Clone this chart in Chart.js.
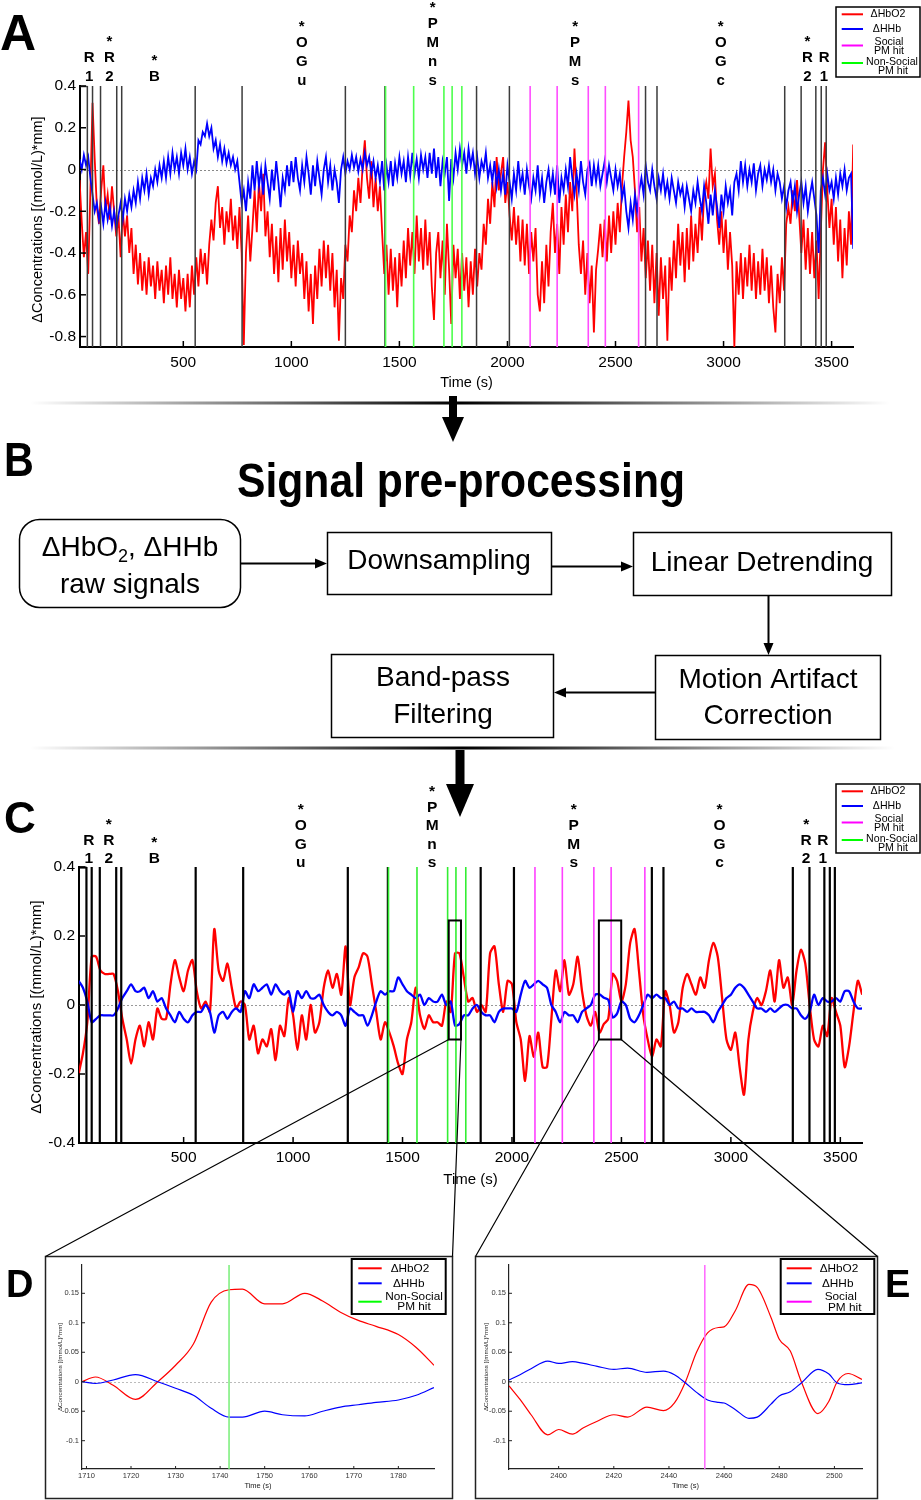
<!DOCTYPE html>
<html lang="en">
<head>
<meta charset="UTF-8">
<title>fNIRS signal pre-processing</title>
<script src="https://cdn.jsdelivr.net/npm/chart.js@4.4.1/dist/chart.umd.min.js"></script>
<style>
  html, body { margin: 0; padding: 0; background: #fff; }
  #page { position: relative; width: 921px; height: 1500px; overflow: hidden; }
  #page canvas { position: absolute; }
</style>
</head>
<body>
<div id="page">
  <canvas id="chartA" width="921" height="400" style="left:0;top:0"></canvas>
  <canvas id="chartC" width="921" height="430" style="left:0;top:770px"></canvas>
  <canvas id="chartD" width="405" height="241" style="left:46px;top:1257px"></canvas>
  <canvas id="chartE" width="401" height="241" style="left:476px;top:1257px"></canvas>
  <canvas id="overlay" width="921" height="1500" style="left:0;top:0"></canvas>
</div>
<script>
// ---- data ----
// A: raw signals, read every 10 s from 20 s to 3600 s
const timesA = Array.from({length: 359}, (_, i) => 20 + i * 10);
const oxyA = [
  -0.05,-0.25,-0.42,-0.30,-0.50,-0.10,0.32,0.05,-0.18,-0.26,
  -0.10,0.02,-0.20,-0.12,-0.24,-0.08,-0.20,-0.32,-0.22,-0.42,
  -0.20,-0.32,-0.22,-0.40,-0.28,-0.50,-0.36,-0.55,-0.40,-0.58,
  -0.44,-0.60,-0.42,-0.56,-0.46,-0.62,-0.44,-0.58,-0.48,-0.64,
  -0.46,-0.60,-0.42,-0.62,-0.50,-0.66,-0.48,-0.62,-0.52,-0.68,
  -0.50,-0.66,-0.46,-0.60,-0.42,-0.56,-0.38,-0.50,-0.40,-0.55,
  -0.36,-0.24,-0.34,-0.16,-0.08,-0.28,-0.18,-0.36,-0.20,-0.30,
  -0.14,-0.34,-0.22,-0.38,-0.18,-0.40,-0.84,-0.40,-0.22,-0.44,
  -0.28,-0.10,-0.30,-0.06,-0.20,-0.02,-0.32,-0.20,-0.42,-0.26,
  -0.50,-0.32,-0.54,-0.28,-0.48,-0.24,-0.44,-0.30,-0.52,-0.36,
  -0.56,-0.34,-0.50,-0.40,-0.62,-0.44,-0.68,-0.50,-0.74,-0.46,
  -0.62,-0.38,-0.56,-0.34,-0.52,-0.36,-0.58,-0.40,-0.66,-0.48,
  -0.82,-0.52,-0.62,-0.36,-0.44,-0.22,-0.30,-0.10,-0.20,-0.04,
  -0.16,0.02,0.14,-0.04,-0.14,0.04,-0.18,-0.04,-0.20,-0.08,
  -0.30,-0.50,-0.36,-0.60,-0.38,-0.58,-0.42,-0.66,-0.40,-0.56,
  -0.34,-0.52,-0.28,-0.46,-0.30,-0.50,-0.22,-0.44,-0.28,-0.48,
  -0.24,-0.46,-0.30,-0.56,-0.72,-0.40,-0.30,-0.52,-0.34,-0.60,
  -0.26,-0.48,-0.74,-0.36,-0.52,-0.38,-0.62,-0.40,-0.58,-0.42,
  -0.66,-0.44,-0.60,-0.38,-0.56,-0.40,-0.48,-0.26,-0.36,-0.14,
  -0.26,-0.06,-0.18,0.06,-0.10,-0.02,0.06,-0.16,-0.06,-0.22,
  -0.34,-0.18,-0.36,-0.22,-0.44,-0.24,-0.46,-0.26,-0.50,-0.30,
  -0.44,-0.28,-0.60,-0.68,-0.44,-0.64,-0.36,-0.56,-0.30,-0.16,
  -0.40,-0.26,-0.50,-0.18,-0.36,-0.12,-0.30,-0.06,-0.20,0.10,
  -0.10,-0.36,-0.50,-0.34,-0.60,-0.40,-0.64,-0.46,-0.78,-0.48,
  -0.38,-0.26,-0.42,-0.24,-0.44,-0.22,-0.40,-0.20,-0.36,-0.16,
  -0.30,-0.08,0.06,0.18,0.33,0.14,0.06,-0.10,-0.30,-0.18,
  -0.44,-0.28,-0.52,-0.34,-0.58,-0.36,-0.64,-0.40,-0.70,-0.42,
  -0.62,-0.46,-0.82,-0.42,-0.58,-0.34,-0.52,-0.26,-0.46,-0.30,
  -0.54,-0.28,-0.48,-0.22,-0.44,-0.26,-0.40,-0.18,-0.34,-0.12,
  -0.06,-0.14,0.10,-0.08,-0.02,-0.24,-0.36,-0.20,-0.40,-0.24,
  -0.48,-0.30,-0.46,-0.85,-0.44,-0.60,-0.40,-0.62,-0.42,-0.56,
  -0.36,-0.58,-0.40,-0.62,-0.44,-0.60,-0.38,-0.58,-0.42,-0.64,
  -0.46,-0.66,-0.78,-0.50,-0.64,-0.42,-0.58,-0.26,-0.18,-0.26,
  -0.10,-0.20,-0.05,-0.22,-0.40,-0.24,-0.48,-0.28,-0.50,-0.30,
  -0.52,-0.34,-0.62,-0.30,0.00,0.13,-0.10,-0.28,-0.14,-0.36,
  -0.18,-0.44,-0.24,-0.52,-0.28,-0.46,-0.20,-0.36,0.12
];
const deoxyA = [
  0.05,0.00,0.07,0.02,0.06,-0.04,-0.12,-0.20,-0.16,-0.24,
  -0.18,-0.26,-0.16,-0.24,-0.18,-0.27,-0.20,-0.28,-0.22,-0.16,
  -0.24,-0.14,-0.20,-0.12,-0.18,-0.10,-0.16,-0.06,-0.14,-0.04,
  -0.10,-0.02,-0.12,-0.04,-0.08,0.00,-0.06,0.02,-0.04,0.04,
  -0.04,0.06,-0.02,0.08,0.00,0.06,-0.02,0.08,0.02,0.10,
  0.00,0.06,-0.02,0.04,0.00,0.14,0.12,0.18,0.16,0.22,
  0.16,0.20,0.10,0.14,0.06,0.12,0.04,0.10,0.03,0.08,
  0.02,0.06,0.00,0.04,-0.06,-0.16,-0.10,-0.20,-0.06,-0.14,
  0.02,-0.10,0.04,-0.08,0.00,-0.12,0.02,-0.06,-0.14,0.00,
  -0.10,0.04,-0.06,-0.18,-0.04,-0.10,0.02,-0.08,0.04,-0.06,
  0.06,-0.04,-0.10,0.02,-0.06,0.06,-0.02,-0.12,0.02,-0.08,
  0.04,-0.04,-0.12,0.00,0.06,-0.06,0.02,-0.10,0.00,-0.06,
  -0.16,0.00,0.06,-0.02,0.04,0.00,0.07,0.01,0.06,-0.01,
  0.05,0.00,0.08,0.02,0.06,-0.02,0.04,-0.04,0.02,-0.06,
  0.04,-0.10,0.02,-0.06,0.04,-0.08,0.03,-0.04,0.06,-0.02,
  0.04,-0.06,0.06,-0.03,0.08,-0.02,0.05,-0.04,0.07,0.00,
  0.06,-0.04,0.08,-0.02,0.10,-0.04,0.06,-0.08,0.04,-0.02,
  0.06,-0.15,0.05,-0.04,0.08,0.00,0.10,0.02,0.08,-0.02,
  0.10,0.02,0.08,-0.02,0.06,-0.04,0.04,0.00,0.08,-0.04,
  0.02,-0.06,0.04,-0.08,0.00,-0.10,-0.02,-0.12,0.02,-0.06,
  -0.14,-0.02,-0.10,0.04,-0.08,-0.02,-0.12,0.00,-0.08,-0.14,
  -0.04,-0.10,0.02,-0.12,-0.04,-0.16,-0.06,0.00,-0.10,-0.02,
  -0.12,0.02,-0.16,-0.04,-0.10,0.00,-0.08,0.06,-0.04,-0.12,
  -0.02,-0.10,0.04,-0.06,-0.12,0.00,0.03,-0.08,0.02,-0.06,
  0.02,-0.08,-0.02,0.04,-0.06,0.02,-0.04,-0.10,0.00,-0.08,
  -0.02,-0.14,-0.08,-0.20,-0.28,-0.16,-0.24,-0.12,-0.20,-0.10,
  -0.04,-0.12,0.02,-0.06,-0.10,0.00,-0.08,-0.14,-0.04,-0.10,
  -0.02,-0.12,-0.06,-0.14,-0.04,-0.10,-0.16,-0.06,-0.12,-0.08,
  -0.18,-0.08,-0.14,-0.20,-0.10,-0.16,-0.06,-0.14,-0.20,-0.08,
  -0.16,-0.26,-0.12,-0.22,-0.10,-0.18,-0.28,-0.12,-0.20,-0.08,
  -0.16,-0.10,-0.22,-0.06,-0.02,-0.10,0.04,-0.06,0.02,-0.08,
  0.00,-0.06,0.03,-0.10,-0.02,0.02,-0.08,0.00,-0.05,0.02,
  -0.06,0.00,-0.10,-0.02,-0.06,-0.14,-0.08,-0.18,-0.10,-0.06,
  -0.16,-0.08,-0.20,-0.12,-0.06,-0.16,-0.08,-0.20,-0.12,-0.06,
  -0.14,-0.22,-0.40,-0.10,-0.04,-0.12,-0.02,-0.10,-0.06,-0.14,
  -0.04,-0.12,-0.02,-0.08,0.00,-0.10,-0.04,-0.02,-0.38
];

// C: pre-processed signals, read every 20 s from 20 s to 3600 s
const timesC = Array.from({length: 180}, (_, i) => 20 + i * 20);
const oxyC = [
  -0.20,-0.14,-0.05,0.14,0.14,0.10,0.09,0.09,0.09,0.04,
  -0.04,-0.10,-0.17,-0.10,-0.06,-0.12,-0.05,-0.10,-0.01,-0.04,
  -0.04,0.06,0.13,0.08,0.04,0.10,0.13,0.04,-0.01,0.01,
  -0.02,0.22,0.10,0.07,0.12,0.05,-0.01,0.01,0.00,-0.10,
  -0.06,-0.14,-0.10,-0.12,-0.07,-0.16,-0.06,-0.09,0.02,-0.03,
  -0.13,-0.03,-0.10,0.00,-0.08,-0.05,0.05,0.10,0.05,0.09,
  0.03,0.17,0.00,0.08,0.11,0.15,0.14,0.06,-0.02,-0.10,
  -0.05,-0.08,-0.12,-0.17,-0.20,-0.10,-0.05,0.05,-0.03,-0.07,
  -0.03,-0.05,-0.05,-0.06,0.01,-0.02,0.15,0.15,0.08,0.01,
  0.02,-0.02,0.00,-0.02,0.15,0.17,0.06,-0.02,0.07,0.06,
  -0.05,-0.10,-0.22,-0.09,-0.15,-0.08,-0.18,-0.18,-0.04,0.10,
  0.04,0.13,0.03,0.06,0.14,0.04,-0.03,-0.06,-0.02,-0.08,
  -0.055,-0.04,0.09,0.07,0.01,0.06,0.18,0.22,0.10,-0.03,
  -0.10,-0.15,-0.10,-0.12,0.04,0.00,-0.08,-0.05,0.05,0.09,
  0.06,0.03,0.08,0.05,0.13,0.18,0.14,0.02,-0.10,-0.13,
  -0.08,-0.18,-0.26,-0.10,-0.02,0.02,0.00,0.04,0.10,0.01,
  0.13,0.05,0.08,0.00,0.10,0.16,0.12,0.00,-0.10,-0.12,
  -0.06,-0.09,0.02,-0.02,-0.06,-0.18,-0.12,-0.02,0.07,0.03
];
const deoxyC = [
  0.07,0.05,0.01,-0.05,-0.04,-0.03,-0.03,-0.03,-0.03,-0.01,
  0.02,0.04,0.06,0.04,0.04,0.05,0.02,0.04,0.01,0.02,
  -0.01,-0.03,-0.05,-0.02,-0.04,-0.05,-0.03,-0.02,-0.02,0.00,
  -0.02,-0.08,-0.03,-0.02,-0.04,-0.02,-0.01,-0.02,0.04,0.02,
  0.06,0.04,0.05,0.06,0.03,0.06,0.04,0.03,0.04,-0.02,
  0.04,0.02,0.04,0.02,0.02,0.03,0.00,-0.02,-0.03,-0.02,
  -0.03,-0.06,-0.01,-0.02,-0.03,-0.03,-0.06,-0.03,0.01,0.04,
  0.03,0.04,0.04,0.08,0.06,0.04,0.03,0.02,0.03,0.00,
  0.02,0.01,0.01,0.03,0.00,0.01,-0.06,-0.055,-0.03,-0.03,
  -0.01,0.00,-0.02,-0.03,-0.03,-0.05,-0.02,-0.01,-0.01,-0.01,
  -0.02,0.03,0.07,0.05,0.06,0.07,0.06,0.05,0.00,-0.02,
  -0.05,-0.02,-0.03,-0.03,-0.05,-0.02,-0.01,0.00,0.03,0.031,
  0.021,0.015,-0.036,-0.025,0.01,0.00,-0.04,-0.05,-0.03,0.00,
  0.03,0.02,0.03,0.02,0.02,0.00,0.01,-0.01,-0.01,-0.02,
  -0.01,-0.02,-0.02,-0.02,-0.03,-0.05,-0.02,0.00,0.02,0.03,
  0.05,0.06,0.05,0.03,0.01,-0.01,-0.01,-0.02,-0.01,-0.02,
  -0.01,0.00,0.00,-0.01,-0.01,-0.03,-0.04,-0.02,0.03,0.00,
  0.02,0.01,0.01,0.02,0.01,0.04,0.04,0.01,-0.01,-0.01
];

// D: zoom on the non-social PM hit
const timesD = [1709,1712,1716,1721,1726,1730,1734,1738,1742,1745,1750,1754,1759,1763,1767,1771,1775,1780,1784,1788];
const oxyD = [0.0,0.008,-0.006,-0.03,0.0,0.028,0.064,0.135,0.156,0.157,0.132,0.132,0.15,0.137,0.118,0.104,0.094,0.08,0.058,0.028];
const deoxyD = [0.0,-0.003,0.003,0.012,0.0,-0.011,-0.023,-0.045,-0.06,-0.06,-0.05,-0.056,-0.058,-0.05,-0.043,-0.039,-0.035,-0.031,-0.023,-0.01];

// E: zoom on the social PM hit
const timesE = [2382,2386,2390,2396,2400,2405,2409,2414,2420,2425,2432,2438,2442,2446,2450,2454,2458,2460,2464,2469,2472,2477,2480,2484,2488,2494,2498,2501,2505,2510];
const oxyE = [-0.007,-0.03,-0.056,-0.09,-0.081,-0.089,-0.078,-0.067,-0.056,-0.06,-0.043,-0.049,-0.036,0.0,0.05,0.083,0.092,0.093,0.12,0.165,0.16,0.109,0.072,0.052,0.0,-0.054,-0.033,0.0,0.014,0.004];
const deoxyE = [0.003,0.012,0.022,0.035,0.031,0.034,0.031,0.026,0.021,0.023,0.016,0.018,0.012,-0.002,-0.018,-0.031,-0.035,-0.036,-0.047,-0.062,-0.06,-0.038,-0.024,-0.017,-0.002,0.021,0.013,-0.002,-0.005,-0.002];

// task events (s)
const blockEvents = [56,80,117,192,215,555,772,1250,1433,1857,2009,2639,2692,3283,3359,3427,3452,3475];
const nonSocialHits = [1436,1566,1706,1744,1789];
const socialHits = [2105,2230,2374,2453,2607];
const nonSocialHitD = [1742];
const socialHitE = [2453];

// block labels above panels A and C
const blockLabels = ['R1', '*R2', '*B', '*OGu', '*PMns', '*PMs', '*OGc', '*R2', 'R1'];
const blockLabelTimesA = [64, 158, 366, 1048, 1654, 2313, 2987, 3388, 3465];
const blockLabelTimesC = [67, 158, 366, 1035, 1635, 2282, 2948, 3344, 3420];

// zoom windows marked in C
const zoomWindows = [[1711, 1767], [2397, 2499]];
const zoomWindowY = [-0.1, 0.245];

// axes
const xTicksAC = [500, 1000, 1500, 2000, 2500, 3000, 3500];
const yTicksA = [-0.8, -0.6, -0.4, -0.2, 0, 0.2, 0.4];
const yTickLabelsA = ['-0.8', '-0.6', '-0.4', '-0.2', '0', '0.2', '0.4'];
const yTicksC = [-0.4, -0.2, 0, 0.2, 0.4];
const yTickLabelsC = ['-0.4', '-0.2', '0', '0.2', '0.4'];
const xTicksD = [1710, 1720, 1730, 1740, 1750, 1760, 1770, 1780];
const xTicksE = [2400, 2420, 2440, 2460, 2480, 2500];
const yTicksDE = [-0.1, -0.05, 0, 0.05, 0.1, 0.15];
const yTickLabelsDE = ['-0.1', '-0.05', '0', '0.05', '0.1', '0.15'];

const RED = '#ff0000', BLUE = '#0000ff', MAGENTA = '#ff00ff', GREEN = '#00ff00';
const FONT = "'Liberation Sans', Arial, Helvetica, sans-serif";
const Y_TITLE = '\u0394Concentrations [(mmol/L)*mm]';

Chart.defaults.font.family = FONT;
Chart.defaults.color = '#000';

function pts(xs, ys) { return xs.map((x, i) => ({x: x, y: ys[i]})); }

function drawLegend(ctx, lg) {
  const [bx, by, bw, bh] = lg.box;
  ctx.save();
  ctx.fillStyle = '#fff';
  ctx.fillRect(bx, by, bw, bh);
  ctx.strokeStyle = '#000';
  ctx.lineWidth = lg.border;
  ctx.strokeRect(bx, by, bw, bh);
  ctx.font = lg.font + 'px ' + FONT;
  ctx.textAlign = 'center';
  ctx.textBaseline = 'middle';
  ctx.fillStyle = '#000';
  lg.rows.forEach(r => {
    ctx.strokeStyle = r.color;
    ctx.lineWidth = 2;
    ctx.beginPath();
    ctx.moveTo(bx + lg.lineX[0], by + r.lineY);
    ctx.lineTo(bx + lg.lineX[1], by + r.lineY);
    ctx.stroke();
    r.texts.forEach(t => ctx.fillText(t[0], bx + t[1], by + t[2]));
  });
  ctx.restore();
}

function figPlugin(cfg) {
  return {
    id: 'fig' + cfg.name,
    beforeDatasetsDraw(chart) {
      const {ctx, chartArea: a, scales: {y}} = chart;
      const y0 = Math.round(y.getPixelForValue(0)) + 0.5;
      ctx.save();
      ctx.strokeStyle = cfg.zeroColor;
      ctx.lineWidth = 1;
      ctx.setLineDash([2, 2]);
      ctx.beginPath(); ctx.moveTo(a.left, y0); ctx.lineTo(a.right, y0); ctx.stroke();
      ctx.restore();
    },
    afterDatasetsDraw(chart) {
      const {ctx, chartArea: a, scales: {x, y}} = chart;
      ctx.save();
      cfg.events.forEach(ev => {
        ctx.strokeStyle = ev.color;
        ctx.lineWidth = ev.width;
        ev.times.forEach(t => {
          const px = x.getPixelForValue(t);
          ctx.beginPath(); ctx.moveTo(px, a.top); ctx.lineTo(px, a.bottom); ctx.stroke();
        });
      });
      if (cfg.boxTop) {
        ctx.strokeStyle = cfg.events[0].color;
        ctx.lineWidth = cfg.events[0].width;
        ctx.beginPath();
        ctx.moveTo(a.left, a.top + 0.5);
        ctx.lineTo(x.getPixelForValue(cfg.events[0].times[0]), a.top + 0.5);
        ctx.stroke();
      }
      (cfg.rects || []).forEach(r => {
        const x0 = x.getPixelForValue(r[0]), x1 = x.getPixelForValue(r[1]);
        const yT = y.getPixelForValue(cfg.rectY[1]), yB = y.getPixelForValue(cfg.rectY[0]);
        ctx.strokeStyle = '#000';
        ctx.lineWidth = 2;
        ctx.strokeRect(x0, yT, x1 - x0, yB - yT);
      });
      // inward tick marks
      ctx.strokeStyle = cfg.axisColor;
      ctx.lineWidth = cfg.tickWidth;
      x.ticks.forEach(tk => {
        const px = x.getPixelForValue(tk.value);
        ctx.beginPath(); ctx.moveTo(px, a.bottom); ctx.lineTo(px, a.bottom - cfg.tickLen); ctx.stroke();
      });
      y.ticks.forEach(tk => {
        const py = y.getPixelForValue(tk.value);
        ctx.beginPath(); ctx.moveTo(a.left, py); ctx.lineTo(a.left + cfg.tickLen, py); ctx.stroke();
      });
      ctx.restore();
    },
    afterDraw(chart) {
      const {ctx, chartArea: a, scales: {x}} = chart;
      ctx.save();
      ctx.fillStyle = cfg.titleColor;
      ctx.textAlign = 'center';
      ctx.textBaseline = 'middle';
      ctx.font = cfg.titleSize + 'px ' + FONT;
      ctx.fillText('Time (s)', (a.left + a.right) / 2, a.bottom + cfg.xTitleOffset);
      ctx.save();
      ctx.translate(cfg.yTitleX, (a.top + a.bottom) / 2 + (cfg.yTitleShift || 0));
      ctx.rotate(-Math.PI / 2);
      ctx.font = cfg.yTitleSize + 'px ' + FONT;
      ctx.fillText(Y_TITLE, 0, 0);
      ctx.restore();
      if (cfg.labels) {
        ctx.fillStyle = '#000';
        ctx.font = 'bold ' + cfg.labelSize + 'px ' + FONT;
        ctx.textBaseline = 'alphabetic';
        cfg.labels.forEach((lab, i) => {
          const px = x.getPixelForValue(cfg.labelTimes[i]);
          const chars = lab.split('');
          const last = chars[chars.length - 1];
          let base = a.top - (/[a-z]/.test(last) ? cfg.labelGapLow : cfg.labelGapUp);
          for (let k = chars.length - 1; k >= 0; k--) {
            const c = chars[k];
            ctx.fillText(c, px, c === '*' ? base + cfg.labelSize * 0.17 : base);
            base -= cfg.labelStep;
          }
        });
      }
      ctx.restore();
      if (cfg.legend) drawLegend(ctx, cfg.legend);
    }
  };
}

function makeChart(id, cfg) {
  const datasets = [
    {data: pts(cfg.times, cfg.deoxy), borderColor: BLUE, borderWidth: cfg.lineWidth, tension: cfg.tension, cubicInterpolationMode: cfg.cubic},
    {data: pts(cfg.times, cfg.oxy), borderColor: RED, borderWidth: cfg.lineWidth, tension: cfg.tension, cubicInterpolationMode: cfg.cubic}
  ];
  return new Chart(document.getElementById(id), {
    type: 'line',
    data: {datasets: datasets},
    options: {
      responsive: false,
      animation: false,
      events: [],
      parsing: false,
      layout: {padding: cfg.padding},
      elements: {point: {radius: 0}, line: {fill: false}},
      plugins: {legend: {display: false}, tooltip: {enabled: false}, title: {display: false}},
      scales: {
        x: {
          type: 'linear', min: cfg.xRange[0], max: cfg.xRange[1],
          afterBuildTicks: s => { s.ticks = cfg.xTicks.map(v => ({value: v})); },
          afterFit: s => { s.height = cfg.xAxisH; },
          grid: {display: false, drawTicks: false},
          border: {display: true, color: cfg.axisColor, width: cfg.axisWidth},
          ticks: {padding: cfg.xTickPad, color: cfg.tickColor, font: {size: cfg.tickSize}, maxRotation: 0, autoSkip: false,
                  callback: v => String(v)}
        },
        y: {
          type: 'linear', min: cfg.yRange[0], max: cfg.yRange[1],
          afterBuildTicks: s => { s.ticks = cfg.yTicks.map(v => ({value: v})); },
          afterFit: s => { s.width = cfg.yAxisW; },
          grid: {display: false, drawTicks: false},
          border: {display: true, color: cfg.axisColor, width: cfg.axisWidth},
          ticks: {padding: cfg.yTickPad, color: cfg.tickColor, font: {size: cfg.tickSize}, autoSkip: false,
                  callback: (v, i) => cfg.yTickLabels[i]}
        }
      }
    },
    plugins: [figPlugin(cfg.fig)]
  });
}

const legendRowsAC = [
  {color: RED, lineY: 7.3, texts: [['\u0394HbO2', 52, 7.3]]},
  {color: BLUE, lineY: 22, texts: [['\u0394HHb', 51, 22]]},
  {color: MAGENTA, lineY: 38.5, texts: [['Social', 53, 35], ['PM hit', 53, 43.6]]},
  {color: GREEN, lineY: 56, texts: [['Non-Social', 56, 55], ['PM hit', 57, 63.8]]}
];

makeChart('chartA', {
  times: timesA, oxy: oxyA, deoxy: deoxyA, lineWidth: 1.8, tension: 0, cubic: 'default',
  padding: {left: 0, right: 68, top: 86, bottom: 0}, yAxisW: 80, xAxisH: 53,
  xRange: [22, 3599], yRange: [-0.85, 0.4], xTicks: xTicksAC, yTicks: yTicksA, yTickLabels: yTickLabelsA,
  axisColor: '#000', axisWidth: 2, tickColor: '#000', tickSize: 15.5, xTickPad: 6, yTickPad: 4,
  fig: {
    name: 'A', zeroColor: '#888', axisColor: '#000', tickWidth: 1.5, tickLen: 6, boxTop: true,
    events: [
      {times: blockEvents, color: '#3c3c3c', width: 1.5},
      {times: nonSocialHits, color: '#4dff4d', width: 1.6},
      {times: socialHits, color: '#ff4dff', width: 1.6}
    ],
    titleColor: '#000', titleSize: 14.5, xTitleOffset: 36, yTitleX: 38, yTitleSize: 14.5, yTitleShift: 3,
    labels: blockLabels, labelTimes: blockLabelTimesA, labelSize: 15, labelStep: 19, labelGapUp: 5, labelGapLow: 1,
    legend: {box: [836, 7, 84, 70], border: 1.5, font: 10.6, lineX: [5.7, 27], rows: legendRowsAC}
  }
});

const chartC = makeChart('chartC', {
  times: timesC, oxy: oxyC, deoxy: deoxyC, lineWidth: 2.3, tension: 0.25, cubic: 'default',
  padding: {left: 0, right: 59, top: 97, bottom: 0}, yAxisW: 79, xAxisH: 57,
  xRange: [22, 3599], yRange: [-0.4, 0.4], xTicks: xTicksAC, yTicks: yTicksC, yTickLabels: yTickLabelsC,
  axisColor: '#000', axisWidth: 2, tickColor: '#000', tickSize: 15.5, xTickPad: 5, yTickPad: 4,
  fig: {
    name: 'C', zeroColor: '#999', axisColor: '#000', tickWidth: 1.5, tickLen: 6, boxTop: true,
    events: [
      {times: blockEvents, color: '#000', width: 2.2},
      {times: nonSocialHits, color: '#33ee33', width: 1.6},
      {times: socialHits, color: '#ff40ff', width: 1.6}
    ],
    rects: zoomWindows, rectY: zoomWindowY,
    titleColor: '#000', titleSize: 15, xTitleOffset: 37, yTitleX: 37, yTitleSize: 15, yTitleShift: 2,
    labels: blockLabels, labelTimes: blockLabelTimesC, labelSize: 15.5, labelStep: 18.5, labelGapUp: 4, labelGapLow: 0,
    legend: {box: [836, 14, 84, 69], border: 1.5, font: 10.6, lineX: [5.7, 27], rows: legendRowsAC}
  }
});

makeChart('chartD', {
  times: timesD, oxy: oxyD, deoxy: deoxyD, lineWidth: 1.2, tension: 0.4, cubic: 'monotone',
  padding: {left: 0, right: 17, top: 8, bottom: 0}, yAxisW: 36, xAxisH: 29,
  xRange: [1709, 1788], yRange: [-0.148, 0.198], xTicks: xTicksD, yTicks: yTicksDE, yTickLabels: yTickLabelsDE,
  axisColor: '#222', axisWidth: 1.2, tickColor: '#333', tickSize: 7.5, xTickPad: 2.5, yTickPad: 3,
  fig: {
    name: 'D', zeroColor: '#bbb', axisColor: '#222', tickWidth: 1, tickLen: 3,
    events: [{times: nonSocialHitD, color: '#77ee77', width: 1.5}],
    titleColor: '#222', titleSize: 7.5, xTitleOffset: 17, yTitleX: 14, yTitleSize: 6.2,
    legend: {box: [305.7, 2, 94, 55], border: 2, font: 11.8, lineX: [6.6, 30], rows: [
      {color: RED, lineY: 9.3, texts: [['\u0394HbO2', 58.3, 9.3]]},
      {color: BLUE, lineY: 24.3, texts: [['\u0394HHb', 57, 24.3]]},
      {color: GREEN, lineY: 42.7, texts: [['Non-Social', 62.3, 37.7], ['PM hit', 62.3, 47.7]]}
    ]}
  }
});

makeChart('chartE', {
  times: timesE, oxy: oxyE, deoxy: deoxyE, lineWidth: 1.2, tension: 0.4, cubic: 'monotone',
  padding: {left: 0, right: 15, top: 8, bottom: 0}, yAxisW: 33, xAxisH: 29,
  xRange: [2382, 2510], yRange: [-0.148, 0.198], xTicks: xTicksE, yTicks: yTicksDE, yTickLabels: yTickLabelsDE,
  axisColor: '#222', axisWidth: 1.2, tickColor: '#333', tickSize: 7.5, xTickPad: 2.5, yTickPad: 3,
  fig: {
    name: 'E', zeroColor: '#bbb', axisColor: '#222', tickWidth: 1, tickLen: 3,
    events: [{times: socialHitE, color: '#ff66ff', width: 1.5}],
    titleColor: '#222', titleSize: 7.5, xTitleOffset: 17, yTitleX: 10, yTitleSize: 6.2,
    legend: {box: [304.7, 2, 93.6, 55], border: 2, font: 11.8, lineX: [6, 31], rows: [
      {color: RED, lineY: 9.3, texts: [['\u0394HbO2', 58.3, 9.3]]},
      {color: BLUE, lineY: 24.3, texts: [['\u0394HHb', 57, 24.3]]},
      {color: MAGENTA, lineY: 42.7, texts: [['Social', 60, 37.7], ['PM hit', 64, 48.3]]}
    ]}
  }
});

// ---- overlay: panel letters, pre-processing diagram, zoom connectors ----
function drawOverlay() {
  const ctx = document.getElementById('overlay').getContext('2d');
  ctx.fillStyle = '#000';
  ctx.strokeStyle = '#000';

  function letter(t, x, y, size, sx) {
    ctx.save();
    ctx.font = 'bold ' + size + 'px ' + FONT;
    ctx.textBaseline = 'alphabetic';
    ctx.translate(x, y);
    ctx.scale(sx || 1, 1);
    ctx.fillText(t, 0, 0);
    ctx.restore();
  }
  letter('A', 0, 50, 50);
  letter('B', 4, 476, 48, 0.86);
  letter('C', 4, 833, 44);
  letter('D', 6, 1297, 38);
  letter('E', 885, 1297, 38);

  function divider(y, x0, x1) {
    const g = ctx.createLinearGradient(x0, 0, x1, 0);
    g.addColorStop(0, 'rgba(0,0,0,0)');
    g.addColorStop(0.5, 'rgba(0,0,0,1)');
    g.addColorStop(1, 'rgba(0,0,0,0)');
    ctx.fillStyle = g;
    ctx.fillRect(x0, y - 1.5, x1 - x0, 3);
    ctx.fillStyle = '#000';
  }
  divider(403, 30, 890);
  divider(748, 30, 895);

  function bigArrow(cx, y0, yHead, yTip, shaftW, headW) {
    ctx.fillRect(cx - shaftW / 2, y0, shaftW, yHead - y0 + 1);
    ctx.beginPath();
    ctx.moveTo(cx - headW / 2, yHead);
    ctx.lineTo(cx + headW / 2, yHead);
    ctx.lineTo(cx, yTip);
    ctx.closePath();
    ctx.fill();
  }
  bigArrow(453, 396, 417, 442, 8, 22);
  bigArrow(460, 750, 784, 817, 9, 28);

  // title
  const title = 'Signal pre-processing';
  ctx.save();
  ctx.font = 'bold 49px ' + FONT;
  const tw = ctx.measureText(title).width;
  ctx.translate(461, 497);
  ctx.scale(448 / tw, 1);
  ctx.textAlign = 'center';
  ctx.fillText(title, 0, 0);
  ctx.restore();

  // boxes
  ctx.lineWidth = 1.5;
  ctx.beginPath();
  ctx.roundRect(19.5, 519.5, 221, 88, 20);
  ctx.stroke();
  [[327.5, 532.5, 224, 62], [633.5, 532.5, 258, 63], [655.5, 655.5, 225, 84], [331.5, 654.5, 222, 83]]
    .forEach(b => ctx.strokeRect(b[0], b[1], b[2], b[3]));

  function arrow(x0, y0, x1, y1) {
    const ang = Math.atan2(y1 - y0, x1 - x0), hl = 12, hw = 5;
    const bx = x1 - hl * Math.cos(ang), by = y1 - hl * Math.sin(ang);
    ctx.lineWidth = 2;
    ctx.beginPath(); ctx.moveTo(x0, y0); ctx.lineTo(bx, by); ctx.stroke();
    ctx.beginPath();
    ctx.moveTo(x1, y1);
    ctx.lineTo(bx + hw * Math.sin(ang), by - hw * Math.cos(ang));
    ctx.lineTo(bx - hw * Math.sin(ang), by + hw * Math.cos(ang));
    ctx.closePath();
    ctx.fill();
  }
  arrow(241, 563.5, 327, 563.5);
  arrow(552, 566.5, 633, 566.5);
  arrow(768.5, 596, 768.5, 655);
  arrow(655, 692.5, 554, 692.5);

  ctx.font = '28px ' + FONT;
  ctx.textBaseline = 'middle';
  ctx.textAlign = 'center';
  [['raw signals', 130, 585], ['Downsampling', 439, 561], ['Linear Detrending', 762, 563],
   ['Motion Artifact', 768, 680], ['Correction', 768, 716], ['Band-pass', 443, 678], ['Filtering', 443, 715]]
    .forEach(t => ctx.fillText(t[0], t[1], t[2]));
  // first line with subscript
  const p1 = '\u0394HbO', p2 = '2', p3 = ', \u0394HHb';
  ctx.font = '28px ' + FONT;
  const w1 = ctx.measureText(p1).width, w3 = ctx.measureText(p3).width;
  ctx.font = '18px ' + FONT;
  const w2 = ctx.measureText(p2).width;
  let sx = 130 - (w1 + w2 + w3) / 2;
  ctx.textAlign = 'left';
  ctx.font = '28px ' + FONT;
  ctx.fillText(p1, sx, 548);
  ctx.font = '18px ' + FONT;
  ctx.fillText(p2, sx + w1, 557);
  ctx.font = '28px ' + FONT;
  ctx.fillText(p3, sx + w1 + w2, 548);

  // D and E frames with connectors to the zoom windows in C
  ctx.lineWidth = 1.5;
  ctx.strokeStyle = '#222';
  ctx.strokeRect(45.5, 1256.5, 407, 242);
  ctx.strokeRect(475.5, 1256.5, 402, 242);
  const cTop = 770;
  const xs = chartC.scales.x, ys = chartC.scales.y;
  const yb = ys.getPixelForValue(zoomWindowY[0]) + cTop;
  const frames = [[45.5, 452.5], [475.5, 877.5]];
  ctx.strokeStyle = '#000';
  ctx.lineWidth = 1.2;
  zoomWindows.forEach((w, i) => {
    const xl = xs.getPixelForValue(w[0]), xr = xs.getPixelForValue(w[1]);
    ctx.beginPath();
    ctx.moveTo(xl, yb); ctx.lineTo(frames[i][0], 1256.5);
    ctx.moveTo(xr, yb); ctx.lineTo(frames[i][1], 1256.5);
    ctx.stroke();
  });
}
drawOverlay();
</script>
</body>
</html>
